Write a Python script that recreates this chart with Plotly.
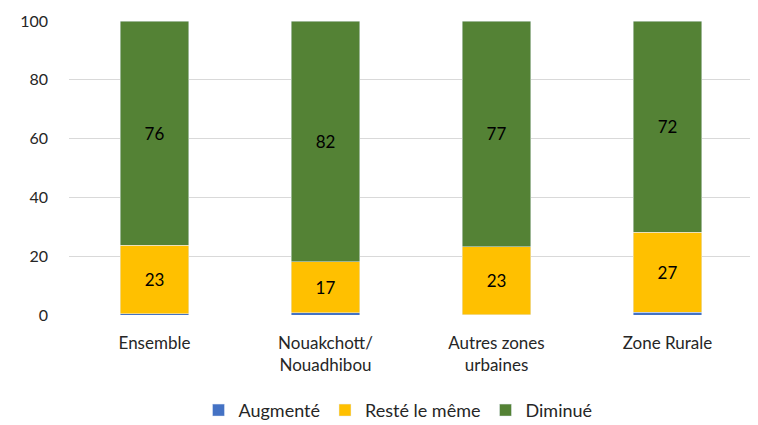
import plotly.graph_objects as go

categories = ["Ensemble", "Nouakchott/<br>Nouadhibou", "Autres zones<br>urbaines", "Zone Rurale"]
augmente = [0.5, 0.7, 0.1, 1.0]
reste = [23.3, 17.4, 23.2, 27.2]
diminue = [76.2, 81.9, 76.7, 71.8]
y_ticks = [0, 20, 40, 60, 80, 100]

FONT = "Lato"

fig = go.Figure()
fig.add_trace(go.Bar(x=categories, y=augmente, name="Augmenté",
                     marker=dict(color="#4472C4")))
fig.add_trace(go.Bar(x=categories, y=reste, name="Resté le même",
                     marker=dict(color="#FFC000"),
                     text=[f"{v:.0f}" for v in reste], textposition="inside",
                     insidetextanchor="middle",
                     textfont=dict(color="#000000", size=17, family=FONT)))
fig.add_trace(go.Bar(x=categories, y=diminue, name="Diminué",
                     marker=dict(color="#548235"),
                     text=[f"{v:.0f}" for v in diminue], textposition="inside",
                     insidetextanchor="middle",
                     textfont=dict(color="#000000", size=17, family=FONT)))

fig.update_layout(
    barmode="stack",
    bargap=0.6,
    width=750, height=417,
    margin=dict(l=61, r=5, t=13, b=110, autoexpand=False),
    paper_bgcolor="white", plot_bgcolor="white",
    font=dict(family=FONT, size=17, color="#262626"),
    showlegend=True,
    legend=dict(orientation="h", x=0.52, xanchor="center", xref="container",
                y=0.035, yanchor="middle", yref="container",
                font=dict(size=18, color="#262626"), itemwidth=30, traceorder="normal"),
    uniformtext=dict(mode="show", minsize=10),
)
fig.update_yaxes(range=[0, 100], tickvals=y_ticks, showgrid=True, gridcolor="#d9d9d9",
                 gridwidth=1, zeroline=False, showline=False, ticks="", automargin=False,
                 tickfont=dict(size=16, color="#262626"), ticklabelstandoff=20)
fig.update_xaxes(showline=False, ticks="", automargin=False,
                 tickfont=dict(size=17, color="#262626"), ticklabelstandoff=16)

fig.write_html("out.html")
